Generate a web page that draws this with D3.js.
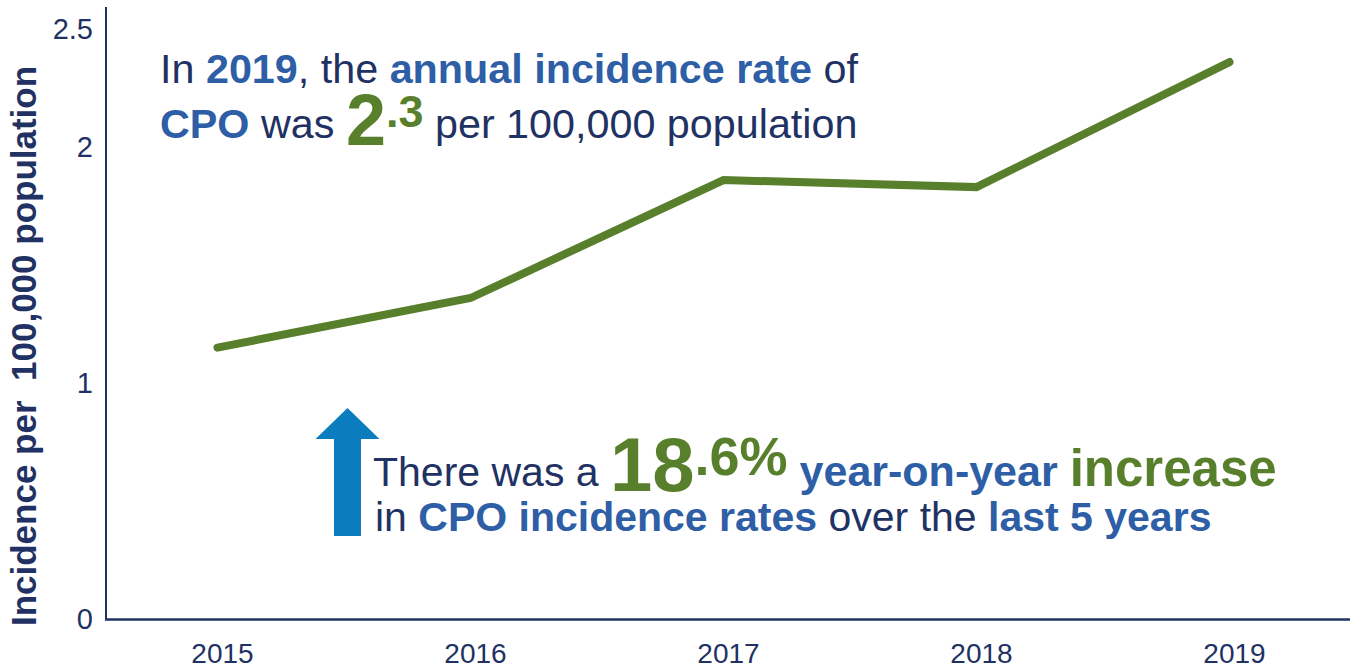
<!DOCTYPE html>
<html>
<head>
<meta charset="utf-8">
<script src="https://cdn.jsdelivr.net/npm/d3@7"></script>
<style>
  html, body { margin: 0; padding: 0; background: #fff; }
  svg { display: block; }
  text { font-family: "Liberation Sans", Arial, Helvetica, sans-serif; }
</style>
</head>
<body>
<svg id="chart" width="1362" height="669"></svg>
<script>
// ---- data ----
const years = ["2015", "2016", "2017", "2018", "2019"];
const incidence = [1.15, 1.36, 1.86, 1.83, 2.36];
const yTicks = [0, 1, 2, 2.5];
const yTitle = "Incidence per  100,000 population";

const NAVY = "#1f3263", BLUE = "#2d5ea6", GREEN = "#587f2b", ARROW = "#0b7dbf";

const svg = d3.select("#chart");

const x = d3.scaleBand().domain(years).range([91, 1356]);
const y = d3.scaleLinear().domain([0, 2.5]).range([619, 29]);
const xc = d => x(d) + x.bandwidth() / 2;

// axes lines
svg.append("line").attr("x1", 106).attr("x2", 106).attr("y1", 7).attr("y2", 620)
  .attr("stroke", NAVY).attr("stroke-width", 2);
svg.append("line").attr("x1", 105).attr("x2", 1350).attr("y1", 619.5).attr("y2", 619.5)
  .attr("stroke", NAVY).attr("stroke-width", 2.5);

// y axis tick labels
const yAxis = d3.axisLeft(y).tickValues(yTicks).tickSize(0).tickPadding(0)
  .tickFormat(d => d3.format("~g")(d));
const gy = svg.append("g").attr("transform", "translate(93,0)").call(yAxis);
gy.select(".domain").remove();
gy.selectAll("text").attr("fill", NAVY).style("font-size", "29px")
  .style("font-family", "'Liberation Sans', Arial, sans-serif");

// x axis tick labels
const xAxis = d3.axisBottom(x).tickSize(0).tickPadding(0);
const gx = svg.append("g").attr("transform", "translate(5,643)").call(xAxis);
gx.select(".domain").remove();
gx.selectAll("text").attr("fill", NAVY).style("font-size", "28px")
  .style("font-family", "'Liberation Sans', Arial, sans-serif");

// y title
svg.append("text")
  .attr("transform", "translate(36,346) rotate(-90)")
  .attr("text-anchor", "middle")
  .attr("fill", NAVY)
  .style("font-size", "35px").style("font-weight", "bold")
  .style("white-space", "pre")
  .text(yTitle);

// line
const line = d3.line().x((d, i) => xc(years[i])).y(d => y(d));
svg.append("path").datum(incidence).attr("d", line)
  .attr("fill", "none").attr("stroke", GREEN).attr("stroke-width", 8)
  .attr("stroke-linecap", "round").attr("stroke-linejoin", "miter");

// rich text helper
function rich(xp, yp, parts, base) {
  const t = svg.append("text").attr("x", xp).attr("y", yp).style("white-space", "pre");
  parts.forEach(p => {
    const s = t.append("tspan").text(p.t).attr("fill", p.c || NAVY)
      .style("font-size", (p.s || base) + "px")
      .style("font-weight", p.b ? "bold" : "normal");
    if (p.dy !== undefined) s.attr("dy", p.dy);
  });
  return t;
}

// annotation 1
rich(160, 83, [
  {t: "In "}, {t: "2019", c: BLUE, b: 1}, {t: ", the "},
  {t: "annual incidence rate", c: BLUE, b: 1}, {t: " of"}
], 41.3);
rich(160, 138, [
  {t: "CPO", c: BLUE, b: 1}, {t: " was "},
  {t: "2", c: GREEN, b: 1, s: 72, dy: 7},
  {t: ".3", c: GREEN, b: 1, s: 45, dy: -18},
  {t: " per 100,000 population", dy: 11}
], 41.3);

// arrow
const arrow = d3.path();
arrow.moveTo(334, 536); arrow.lineTo(334, 439); arrow.lineTo(315.5, 439);
arrow.lineTo(347.5, 408); arrow.lineTo(379.5, 439); arrow.lineTo(361, 439);
arrow.lineTo(361, 536); arrow.closePath();
svg.append("path").attr("d", arrow.toString()).attr("fill", ARROW);

// annotation 2
rich(373, 486, [
  {t: "There was a "},
  {t: "18", c: GREEN, b: 1, s: 76, dy: 5},
  {t: ".6%", c: GREEN, b: 1, s: 54, dy: -16},
  {t: " year-on-year ", c: BLUE, b: 1, s: 43, dy: 11},
  {t: "increase", c: GREEN, b: 1, s: 51}
], 41);
rich(375, 531, [
  {t: "in "}, {t: "CPO incidence rates", c: BLUE, b: 1}, {t: " over the "},
  {t: "last 5 years", c: BLUE, b: 1}
], 41);
</script>
</body>
</html>
